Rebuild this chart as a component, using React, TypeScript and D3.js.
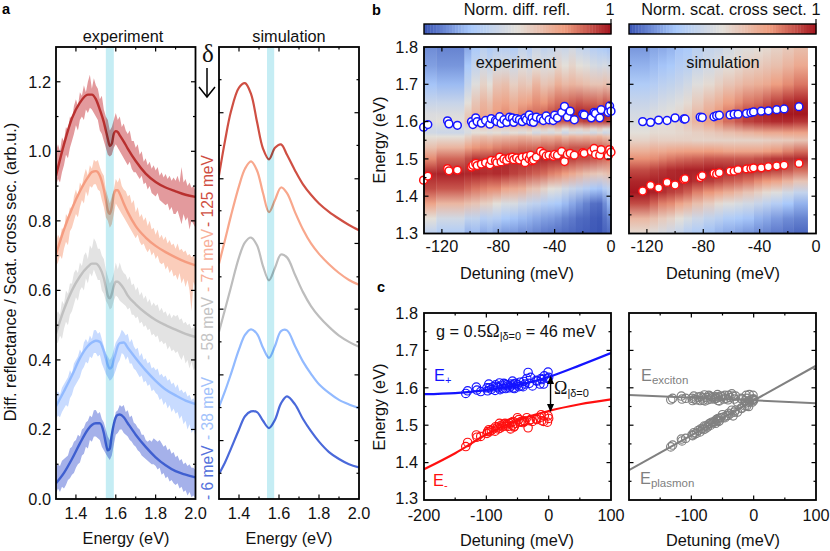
import React from 'react';
import * as d3 from 'd3';

const SANS = '"Liberation Sans", Arial, sans-serif';

// panel a, experiment: noisy band envelopes sampled every 10 meV from 1.30 to 2.00 eV
const bandEnergy = d3.range(0, 71).map((i) => 1.3 + i * 0.01);

const redUpper = [1.00,1.02,1.00,1.04,1.03,1.07,1.06,1.10,1.09,1.13,1.15,1.13,1.17,1.16,1.19,1.17,1.20,1.22,1.18,1.21,1.19,1.18,1.15,1.16,1.12,1.10,1.09,1.06,1.07,1.09,1.11,1.09,1.10,1.07,1.08,1.06,1.05,1.06,1.03,1.03,1.01,1.02,.99,1.00,.97,.98,.96,.97,.95,.96,.945,.955,.93,.94,.925,.935,.92,.93,.915,.925,.915,.93,.91,.955,.91,.92,.90,.91,.895,.90,.885];
const redLower = [.90,.92,.91,.94,.96,.99,.98,1.01,1.03,1.05,1.075,1.06,1.09,1.10,1.09,1.12,1.11,1.125,1.12,1.11,1.10,1.09,1.06,1.05,1.03,1.01,.99,.985,.99,1.01,1.02,1.01,1.00,.99,.98,.97,.96,.97,.95,.94,.94,.93,.92,.93,.905,.91,.89,.90,.88,.875,.87,.88,.86,.855,.85,.845,.85,.83,.84,.82,.82,.83,.81,.79,.82,.80,.81,.775,.80,.79,.78];
const salmonUpper = [.74,.76,.75,.78,.77,.82,.81,.84,.83,.87,.89,.87,.91,.90,.93,.95,.93,.96,.95,.976,.97,.975,.955,.94,.93,.89,.87,.85,.87,.89,.92,.91,.925,.90,.89,.885,.87,.875,.85,.86,.825,.84,.81,.82,.80,.81,.785,.80,.775,.78,.76,.775,.75,.76,.745,.755,.735,.745,.73,.735,.72,.735,.715,.72,.71,.715,.70,.705,.695,.70,.685];
const salmonLower = [.67,.68,.70,.69,.72,.74,.73,.77,.78,.80,.82,.81,.84,.86,.85,.885,.87,.90,.895,.905,.905,.89,.885,.86,.84,.81,.80,.78,.79,.82,.85,.84,.83,.82,.81,.80,.79,.78,.77,.76,.75,.76,.74,.73,.735,.72,.71,.72,.70,.71,.69,.70,.68,.675,.68,.66,.67,.65,.66,.64,.645,.63,.65,.62,.635,.61,.63,.60,.54,.625,.61];
const grayUpper = [.53,.54,.53,.57,.56,.60,.59,.62,.62,.65,.66,.65,.68,.67,.70,.71,.69,.73,.72,.75,.74,.72,.72,.70,.69,.66,.64,.62,.63,.65,.68,.66,.68,.66,.65,.645,.63,.64,.615,.62,.60,.61,.585,.595,.575,.585,.565,.575,.555,.565,.555,.56,.54,.55,.535,.54,.525,.535,.52,.53,.525,.53,.515,.52,.505,.51,.50,.505,.49,.495,.485];
const grayLower = [.447,.45,.47,.46,.49,.51,.50,.53,.54,.56,.58,.57,.60,.61,.60,.635,.62,.65,.64,.66,.645,.63,.63,.60,.59,.57,.56,.545,.55,.57,.585,.58,.57,.565,.56,.555,.545,.55,.53,.53,.52,.525,.505,.51,.495,.50,.485,.49,.47,.475,.465,.47,.45,.455,.445,.45,.43,.44,.425,.43,.42,.425,.41,.40,.415,.39,.40,.375,.395,.37,.38];
const skyUpper = [.30,.31,.30,.32,.33,.34,.35,.37,.36,.39,.40,.41,.43,.42,.45,.46,.45,.47,.46,.485,.486,.475,.48,.46,.44,.42,.41,.40,.41,.43,.45,.46,.47,.487,.48,.47,.475,.45,.46,.44,.43,.435,.41,.42,.40,.405,.39,.395,.375,.38,.37,.375,.355,.36,.35,.355,.34,.345,.33,.335,.32,.33,.31,.315,.305,.31,.295,.30,.285,.29,.275];
const skyLower = [.23,.24,.235,.25,.26,.27,.265,.29,.30,.32,.33,.34,.35,.37,.38,.395,.39,.41,.405,.42,.42,.41,.415,.39,.375,.36,.35,.34,.345,.355,.37,.39,.40,.42,.415,.40,.41,.39,.39,.375,.37,.36,.35,.355,.335,.34,.325,.33,.31,.315,.305,.30,.285,.29,.27,.28,.26,.27,.25,.26,.245,.25,.23,.24,.215,.225,.20,.215,.19,.20,.18];
const blueUpper = [.093,.10,.095,.11,.115,.12,.125,.145,.15,.165,.17,.185,.18,.20,.205,.22,.225,.24,.235,.255,.256,.245,.25,.23,.22,.20,.18,.17,.19,.22,.25,.255,.27,.265,.27,.25,.255,.235,.24,.22,.215,.205,.20,.185,.185,.17,.165,.17,.165,.175,.17,.165,.17,.16,.15,.155,.14,.145,.13,.135,.12,.125,.11,.115,.10,.105,.095,.10,.09,.09,.083];
const blueLower = [.016,.03,.02,.035,.03,.04,.055,.06,.07,.075,.09,.10,.105,.125,.13,.15,.145,.17,.165,.18,.18,.175,.17,.15,.14,.13,.12,.112,.125,.155,.185,.19,.20,.20,.19,.185,.18,.17,.165,.155,.15,.14,.135,.125,.12,.115,.11,.105,.10,.10,.095,.085,.09,.07,.075,.06,.065,.05,.055,.045,.04,.045,.03,.035,.02,.025,.01,.02,.005,.01,0];

// panel a, experiment fits
const fitEnergy = [1.30,1.34,1.38,1.42,1.46,1.48,1.50,1.52,1.54,1.55,1.56,1.57,1.58,1.59,1.60,1.61,1.62,1.64,1.66,1.70,1.75,1.80,1.85,1.90,1.95,2.00];
const redFit = [.93,1.02,1.095,1.14,1.163,1.163,1.15,1.12,1.084,1.06,1.036,1.015,1.022,1.05,1.058,1.055,1.046,1.028,1.008,.972,.936,.912,.896,.885,.875,.869];
const salmonFit = [.704,.775,.835,.885,.925,.94,.943,.93,.89,.86,.83,.82,.84,.875,.888,.888,.878,.85,.825,.785,.752,.728,.71,.695,.682,.672];
const grayFit = [.476,.545,.6,.64,.668,.677,.677,.665,.635,.61,.585,.577,.59,.612,.625,.625,.62,.605,.585,.56,.535,.515,.5,.487,.475,.466];
const skyFit = [.267,.31,.355,.405,.44,.45,.455,.452,.425,.405,.385,.375,.38,.4,.42,.44,.448,.45,.435,.405,.37,.34,.315,.298,.283,.273];
const blueFit = [.045,.075,.115,.16,.2,.213,.218,.218,.19,.16,.14,.145,.185,.215,.235,.242,.243,.235,.218,.185,.15,.12,.097,.08,.07,.062];

// panel a, simulation
const simEnergy = [1.30,1.33,1.36,1.40,1.43,1.46,1.49,1.52,1.55,1.58,1.61,1.64,1.68,1.72,1.76,1.80,1.85,1.90,1.95,2.00];
const redSim = [.931,1.03,1.115,1.183,1.196,1.165,1.085,1.008,.977,1.01,1.02,.99,.945,.905,.875,.85,.826,.806,.788,.773];
const salmonSim = [.677,.745,.815,.9,.95,.971,.945,.88,.825,.86,.896,.88,.825,.775,.735,.705,.675,.65,.63,.616];
const graySim = [.481,.545,.61,.695,.738,.752,.73,.67,.629,.665,.703,.695,.645,.595,.555,.525,.495,.47,.452,.438];
const skySim = [.265,.31,.36,.43,.472,.488,.475,.435,.406,.44,.483,.485,.44,.395,.36,.33,.305,.285,.272,.262];
const blueSim = [.072,.105,.145,.2,.238,.252,.25,.225,.204,.228,.275,.295,.272,.23,.195,.165,.135,.115,.1,.091];

const simMajor = [.168,.357,.546,.735,.921,1.111];
const simMinor = [.074,.263,.452,.639,.829,1.017,1.206];

// panels b and c, measured polariton energies
const detuning = [-133,-130,-116,-115,-109,-99,-98,-96,-95,-92,-89,-86,-85,-82,-81,-79,-78,-76,-74,-72,-70,-69,-67,-65,-63,-61,-60,-58,-57,-56,-55,-53,-50,-48,-46,-44,-41,-40,-38,-35,-33,-31,-29,-26,-20,-19,-14,-12,-11,-8,-7,-2,-1,0];
const upperBranch = [1.585,1.592,1.602,1.594,1.59,1.6,1.592,1.61,1.6,1.596,1.603,1.593,1.608,1.603,1.6,1.613,1.595,1.605,1.598,1.612,1.61,1.598,1.608,1.605,1.6,1.61,1.605,1.618,1.6,1.61,1.598,1.612,1.608,1.603,1.615,1.605,1.603,1.617,1.61,1.625,1.641,1.612,1.628,1.605,1.62,1.618,1.61,1.625,1.622,1.61,1.632,1.625,1.642,1.628];
const lowerBranch = [1.443,1.454,1.474,1.468,1.47,1.478,1.483,1.488,1.482,1.486,1.49,1.484,1.496,1.495,1.49,1.505,1.492,1.5,1.496,1.503,1.505,1.498,1.503,1.497,1.505,1.49,1.507,1.5,1.51,1.495,1.497,1.505,1.52,1.515,1.508,1.51,1.507,1.512,1.51,1.52,1.493,1.512,1.515,1.51,1.517,1.515,1.52,1.528,1.512,1.51,1.525,1.508,1.525,1.518];
const excitonPoints = [1.568,1.572,1.578,1.570,1.572,1.572,1.566,1.578,1.570,1.568,1.575,1.566,1.577,1.573,1.567,1.581,1.565,1.574,1.568,1.580,1.578,1.570,1.576,1.574,1.570,1.576,1.572,1.582,1.566,1.575,1.565,1.578,1.576,1.570,1.580,1.572,1.568,1.580,1.574,1.584,1.578,1.570,1.578,1.562,1.572,1.570,1.565,1.580,1.572,1.565,1.582,1.568,1.580,1.570];
const plasmonPoints = [1.442,1.447,1.463,1.458,1.465,1.474,1.472,1.48,1.476,1.478,1.486,1.482,1.49,1.492,1.488,1.498,1.49,1.498,1.495,1.503,1.505,1.5,1.508,1.506,1.51,1.505,1.515,1.513,1.518,1.51,1.512,1.52,1.528,1.522,1.52,1.525,1.526,1.532,1.53,1.54,1.525,1.535,1.54,1.535,1.546,1.545,1.552,1.56,1.552,1.55,1.562,1.562,1.57,1.566];

const simDetuning = [-123,-117.4,-111.7,-105.7,-100,-93.8,-92.9,-82.2,-80.7,-72.4,-70.5,-68.6,-61,-58.1,-55.3,-49.3,-46.2,-44.3,-38.8,-33.8,-27.9,-22.6,-12.1];
const simUpper = [1.6,1.598,1.604,1.603,1.61,1.607,1.607,1.612,1.611,1.613,1.616,1.617,1.618,1.62,1.62,1.622,1.624,1.626,1.628,1.629,1.632,1.634,1.64];
const simLower = [1.414,1.429,1.422,1.437,1.43,1.445,1.447,1.45,1.455,1.461,1.459,1.463,1.467,1.467,1.471,1.473,1.474,1.476,1.476,1.479,1.481,1.483,1.488];

// panel c, model curves
const curveDetuning = [-200,-150,-100,-50,0,50,100];
const upperCurve = [1.583,1.586,1.594,1.607,1.629,1.66,1.693];
const lowerCurve = [1.382,1.425,1.475,1.513,1.538,1.556,1.569];
const excitonLine = [1.581,1.559];
const plasmonLine = [1.38,1.659];
const lineDetuning = [-200,100];

// panel b heat maps: energy rows, column edges, one list per column (top to bottom)
const expRows = [1.80,1.75,1.70,1.65,1.62,1.60,1.58,1.57,1.56,1.53,1.50,1.46,1.42,1.38,1.34,1.30];
const expEdges = [-133,-124,-104,-99,-93,-88,-84,-78,-72,-66,-60,-56,-50,-45,-40,-35,-30,-25,-20,-15,-10,-6,-3,0];
const expColumns = [
  [.12,.16,.24,.38,.46,.48,.42,.42,.5,.62,.78,.97,.9,.72,.5,.33],
  [.1,.14,.22,.38,.46,.5,.42,.40,.5,.66,.85,.98,.88,.65,.42,.28],
  [.18,.26,.36,.5,.58,.6,.47,.45,.55,.72,.9,.97,.85,.62,.35,.2],
  [.26,.36,.48,.6,.65,.66,.52,.5,.6,.76,.94,.97,.82,.6,.35,.22],
  [.32,.42,.55,.66,.7,.72,.55,.5,.62,.78,.93,.96,.8,.56,.3,.18],
  [.27,.38,.5,.62,.68,.7,.53,.48,.6,.77,.94,.95,.78,.55,.32,.2],
  [.3,.45,.6,.7,.74,.75,.55,.5,.62,.8,.96,.96,.78,.5,.3,.17],
  [.3,.45,.62,.72,.78,.76,.54,.46,.63,.82,.97,.95,.72,.45,.26,.14],
  [.28,.42,.56,.68,.74,.76,.56,.5,.64,.82,.96,.92,.7,.45,.24,.14],
  [.35,.48,.6,.72,.8,.8,.55,.47,.66,.84,.96,.9,.68,.4,.22,.12],
  [.3,.44,.58,.74,.84,.82,.58,.5,.64,.84,.97,.88,.62,.36,.2,.12],
  [.38,.5,.66,.78,.84,.84,.52,.42,.62,.84,.97,.86,.6,.34,.18,.1],
  [.34,.47,.6,.76,.86,.84,.56,.46,.66,.86,.97,.84,.55,.3,.16,.08],
  [.36,.48,.62,.8,.9,.86,.52,.44,.65,.85,.96,.8,.5,.28,.15,.07],
  [.4,.54,.68,.84,.92,.88,.58,.48,.68,.88,.96,.78,.48,.26,.13,.06],
  [.38,.5,.64,.84,.94,.88,.5,.4,.62,.86,.95,.74,.42,.22,.1,.05],
  [.42,.54,.66,.86,.96,.9,.56,.46,.66,.88,.92,.7,.38,.18,.08,.04],
  [.36,.5,.64,.88,.98,.9,.54,.44,.64,.88,.9,.66,.34,.14,.05,.03],
  [.34,.48,.62,.86,.98,.92,.58,.46,.66,.88,.9,.62,.3,.1,.04,.02],
  [.3,.44,.6,.86,.97,.9,.52,.42,.64,.86,.88,.6,.26,.06,.02,.01],
  [.28,.42,.6,.84,.97,.9,.56,.46,.66,.86,.86,.58,.24,.05,.01,0],
  [.26,.44,.62,.88,.98,.92,.5,.4,.62,.84,.84,.6,.3,.12,.06,.03],
  [.24,.42,.6,.86,.97,.9,.48,.42,.6,.82,.82,.62,.34,.2,.1,.05],
];
const simRows = [1.80,1.75,1.70,1.65,1.62,1.60,1.57,1.55,1.52,1.50,1.47,1.44,1.41,1.38,1.34,1.30];
const simEdges = [-133,-118,-112,-106,-100,-94,-88,-80,-72,-66,-58,-52,-44,-38,-32,-24,-16,-6];
const simColumns = [
  [.14,.2,.28,.38,.43,.45,.5,.55,.68,.77,.9,.97,1,.9,.65,.52],
  [.17,.22,.3,.4,.46,.48,.52,.57,.7,.78,.92,.98,.98,.85,.62,.48],
  [.18,.24,.33,.43,.48,.5,.52,.56,.7,.8,.94,.98,.95,.8,.58,.44],
  [.2,.26,.35,.45,.5,.52,.52,.56,.72,.82,.96,.98,.92,.78,.55,.4],
  [.24,.3,.38,.48,.53,.55,.53,.56,.73,.84,.97,.98,.9,.72,.5,.36],
  [.26,.32,.42,.52,.58,.6,.54,.56,.74,.85,.98,.97,.86,.68,.45,.3],
  [.32,.38,.48,.58,.64,.66,.56,.55,.74,.86,.98,.95,.8,.62,.4,.27],
  [.36,.42,.52,.64,.7,.72,.58,.55,.75,.88,.99,.93,.76,.57,.35,.23],
  [.38,.46,.56,.68,.76,.78,.6,.55,.74,.88,.99,.9,.72,.52,.32,.2],
  [.42,.5,.6,.74,.82,.84,.62,.55,.72,.88,.98,.87,.68,.48,.28,.18],
  [.46,.53,.63,.78,.88,.88,.64,.55,.72,.88,.98,.85,.64,.45,.26,.16],
  [.48,.56,.66,.82,.92,.92,.66,.55,.72,.88,.97,.82,.6,.42,.24,.14],
  [.5,.58,.68,.84,.95,.94,.68,.55,.72,.9,.96,.78,.56,.38,.2,.12],
  [.52,.6,.7,.88,.97,.95,.7,.56,.74,.92,.94,.75,.52,.34,.18,.1],
  [.55,.62,.74,.92,.99,.96,.7,.57,.76,.94,.92,.72,.48,.3,.15,.08],
  [.58,.66,.78,.96,1,.96,.72,.58,.8,.95,.88,.66,.42,.25,.12,.06],
  [.62,.7,.82,.98,1,.94,.72,.6,.84,.96,.84,.6,.36,.2,.1,.04],
];

const heat = d3.scaleLinear<string>()
  .domain([0, 0.25, 0.5, 0.75, 1])
  .range(['#3a54b4', '#a9c9fb', '#e3dfd9', '#ee9c7e', '#a5161f']);

const spectra = [
  { band: '#e39a9d', fit: '#b9302f', sim: '#cf4f43', upper: redUpper, lower: redLower, fitY: redFit, simY: redSim },
  { band: '#fbcdbb', fit: '#f59c80', sim: '#f8a78c', upper: salmonUpper, lower: salmonLower, fitY: salmonFit, simY: salmonSim },
  { band: '#e3e3e3', fit: '#c0c0c0', sim: '#bdbdbd', upper: grayUpper, lower: grayLower, fitY: grayFit, simY: graySim },
  { band: '#c8dbff', fit: '#92baff', sim: '#92baff', upper: skyUpper, lower: skyLower, fitY: skyFit, simY: skySim },
  { band: '#a5b1ea', fit: '#3f5fd0', sim: '#4a69da', upper: blueUpper, lower: blueLower, fitY: blueFit, simY: blueSim },
];

const sideLabels = [
  { text: '- 6 meV', y: 500, color: '#5572dc' },
  { text: '- 38 meV', y: 440, color: '#a2c2fb' },
  { text: '- 58 meV', y: 360, color: '#c4c4c4' },
  { text: '- 71 meV', y: 292, color: '#f8b09a' },
  { text: '- 125 meV', y: 227, color: '#cf4f43' },
];

const exY = d3.scaleLinear().domain([0, 1.3]).range([499, 47]);
const exX = d3.scaleLinear().domain([1.3, 2.0]).range([56, 195.5]);
const smX = d3.scaleLinear().domain([1.3, 2.0]).range([219, 359]);
const bY = d3.scaleLinear().domain([1.3, 1.8]).range([233.5, 47]);
const bLX = d3.scaleLinear().domain([-132.7, 0]).range([424, 611]);
const bRX = d3.scaleLinear().domain([-132.7, 0]).range([629, 816]);
const cY = d3.scaleLinear().domain([1.3, 1.8]).range([500, 313]);
const cLX = d3.scaleLinear().domain([-200, 100]).range([424, 611]);
const cRX = d3.scaleLinear().domain([-200, 100]).range([629, 816]);

type Scale = d3.ScaleLinear<number, number>;

function Frame({ x, y, xMajor, xMinor, yMajor, yMinor }: {
  x: Scale; y: Scale; xMajor: number[]; xMinor: number[]; yMajor: number[]; yMinor: number[];
}) {
  const [x0, x1] = x.range();
  const [y1, y0] = y.range();
  const xt = (vals: number[], len: number) => vals.map((v) => (
    <g key={`x${v}`}>
      <line x1={x(v)} x2={x(v)} y1={y1} y2={y1 - len} stroke="#000" strokeWidth={1.2} />
      <line x1={x(v)} x2={x(v)} y1={y0} y2={y0 + len} stroke="#000" strokeWidth={1.2} />
    </g>
  ));
  const yt = (vals: number[], len: number) => vals.map((v) => (
    <g key={`y${v}`}>
      <line x1={x0} x2={x0 + len} y1={y(v)} y2={y(v)} stroke="#000" strokeWidth={1.2} />
      <line x1={x1} x2={x1 - len} y1={y(v)} y2={y(v)} stroke="#000" strokeWidth={1.2} />
    </g>
  ));
  return (
    <g>
      {xt(xMajor, 4.5)}{xt(xMinor, 2.5)}{yt(yMajor, 4.5)}{yt(yMinor, 2.5)}
      <rect x={x0} y={y0} width={x1 - x0} height={y1 - y0} fill="none" stroke="#000" strokeWidth={1.8} />
    </g>
  );
}

function Label({ x, y, children, anchor = 'middle', size = 16.3, fill = '#111', rotate }: {
  x: number; y: number; children: React.ReactNode; anchor?: string; size?: number; fill?: string; rotate?: boolean;
}) {
  return (
    <text x={x} y={y} textAnchor={anchor as any} fontSize={size} fill={fill} fontFamily={SANS}
      transform={rotate ? `rotate(-90 ${x} ${y})` : undefined}>{children}</text>
  );
}

function HeatMap({ id, x, rows, edges, columns }: {
  id: string; x: Scale; rows: number[]; edges: number[]; columns: number[][];
}) {
  const top = bY(1.8);
  const bottom = bY(1.3);
  const offset = d3.scaleLinear().domain([top, bottom]).range([0, 1]);
  return (
    <g>
      <defs>
        {columns.map((col, i) => (
          <linearGradient key={i} id={`${id}${i}`} x1="0" x2="0" y1="0" y2="1">
            {col.map((v, j) => <stop key={j} offset={offset(bY(rows[j]))} stopColor={heat(v)} />)}
          </linearGradient>
        ))}
      </defs>
      {columns.map((_, i) => (
        <rect key={i} x={x(edges[i])} width={x(edges[i + 1]) - x(edges[i]) + 0.4} y={top} height={bottom - top}
          fill={`url(#${id}${i})`} />
      ))}
    </g>
  );
}

function ColorBar({ x0, x1 }: { x0: number; x1: number }) {
  const t = d3.scaleLinear().domain([0, 1]).range([x0, x1]);
  const steps = d3.range(0, 1, 1 / 60);
  return (
    <g>
      {steps.map((s) => (
        <rect key={s} x={t(s)} y={24} width={(x1 - x0) / 60 + 0.4} height={10} fill={heat(s + 1 / 120)} />
      ))}
      <rect x={x0} y={24} width={x1 - x0} height={10} fill="none" stroke="#000" strokeWidth={1.4} />
      <line x1={x1} x2={x1} y1={19} y2={24} stroke="#000" strokeWidth={1.2} />
    </g>
  );
}

function Dots({ xs, ys, x, y, r, color, fill, width }: {
  xs: number[]; ys: number[]; x: Scale; y: Scale; r: number; color: string; fill: string; width: number;
}) {
  return (
    <g>
      {xs.map((d, i) => (
        <circle key={i} cx={x(d)} cy={y(ys[i])} r={r} fill={fill} stroke={color} strokeWidth={width} />
      ))}
    </g>
  );
}

const omegaFont = '"Liberation Serif", "DejaVu Serif", serif';

export default function App() {
  const areaBand = (up: number[], low: number[]) => d3.area<number>()
    .x((_, i) => exX(bandEnergy[i])).y0((_, i) => exY(low[i])).y1((_, i) => exY(up[i]))(up) ?? '';
  const fitLine = (ys: number[]) => d3.line<number>()
    .x((_, i) => exX(fitEnergy[i])).y((v) => exY(v)).curve(d3.curveMonotoneX)(ys) ?? '';
  const simLine = (ys: number[]) => d3.line<number>()
    .x((_, i) => smX(simEnergy[i])).y((v) => exY(v)).curve(d3.curveCatmullRom)(ys) ?? '';
  const cLine = (xs: number[], ys: number[], x: Scale) => d3.line<number>()
    .x((_, i) => x(xs[i])).y((v) => cY(v)).curve(d3.curveMonotoneX)(ys) ?? '';

  const tickX = [1.4, 1.6, 1.8];
  const tickXMinor = [1.5, 1.7, 1.9];
  const tickY = [0.2, 0.4, 0.6, 0.8, 1.0, 1.2];
  const tickYMinor = [0.1, 0.3, 0.5, 0.7, 0.9, 1.1];
  const eMajor = [1.4, 1.5, 1.6, 1.7];
  const eMinor = [1.35, 1.45, 1.55, 1.65, 1.75];

  return (
    <svg width={830} height={551} style={{ position: 'absolute', left: 0, top: 0, background: '#fff' }}>
      <defs>
        <clipPath id="clipEx"><rect x={56} y={47} width={139.5} height={452} /></clipPath>
        <clipPath id="clipSm"><rect x={219} y={47} width={140} height={452} /></clipPath>
        <clipPath id="clipCL"><rect x={424} y={313} width={187} height={187} /></clipPath>
        <clipPath id="clipCR"><rect x={629} y={313} width={187} height={187} /></clipPath>
        <marker id="arrowEnd" viewBox="0 0 8 8" refX={7} refY={4} markerWidth={6} markerHeight={6} orient="auto-start-reverse">
          <path d="M0,0.5 L8,4 L0,7.5 Z" fill="#000" />
        </marker>
      </defs>

      {/* a: experiment */}
      <g clipPath="url(#clipEx)">
        {spectra.map((s, i) => <path key={i} d={areaBand(s.upper, s.lower)} fill={s.band} />)}
        {spectra.map((s, i) => <path key={i} d={fitLine(s.fitY)} fill="none" stroke={s.fit} strokeWidth={2.4} />)}
        <rect x={exX(1.55)} width={exX(1.59) - exX(1.55)} y={47} height={452} fill="#c5edf4" style={{ mixBlendMode: 'multiply' }} />
      </g>
      <Frame x={exX} y={exY} xMajor={tickX} xMinor={tickXMinor} yMajor={tickY} yMinor={tickYMinor} />

      {/* a: simulation */}
      <g clipPath="url(#clipSm)">
        {spectra.map((s, i) => <path key={i} d={simLine(s.simY)} fill="none" stroke={s.sim} strokeWidth={2.2} />)}
        <rect x={smX(1.54)} width={smX(1.576) - smX(1.54)} y={47} height={452} fill="#c5edf4" style={{ mixBlendMode: 'multiply' }} />
      </g>
      <Frame x={smX} y={exY} xMajor={tickX} xMinor={tickXMinor} yMajor={simMajor} yMinor={simMinor} />

      <Label x={123} y={42}>experiment</Label>
      <Label x={289} y={42}>simulation</Label>
      {[0, 0.2, 0.4, 0.6, 0.8, 1.0, 1.2].map((v) => (
        <Label key={v} x={51} y={exY(v) + 5.8} anchor="end">{v.toFixed(1)}</Label>
      ))}
      {[1.4, 1.6, 1.8, 2.0].map((v) => <Label key={v} x={exX(v)} y={519}>{v.toFixed(1)}</Label>)}
      {[1.4, 1.6, 1.8, 2.0].map((v) => <Label key={v} x={smX(v)} y={519}>{v.toFixed(1)}</Label>)}
      <Label x={126} y={544}>Energy (eV)</Label>
      <Label x={289} y={544}>Energy (eV)</Label>
      <Label x={16} y={272} rotate>Diff. reflectance / Scat. cross sec. (arb.u.)</Label>
      {sideLabels.map((l) => <Label key={l.text} x={213} y={l.y} anchor="start" size={15.6} fill={l.color} rotate>{l.text}</Label>)}
      <text x={208} y={62} textAnchor="middle" fontSize={25} fontFamily={omegaFont} fill="#111">δ</text>
      <line x1={207} x2={207} y1={68} y2={96} stroke="#000" strokeWidth={1.5} />
      <path d="M199,87 L207,97 L215,87" fill="none" stroke="#000" strokeWidth={1.5} />

      {/* b */}
      <HeatMap id="hE" x={bLX} rows={expRows} edges={expEdges} columns={expColumns} />
      <Dots xs={detuning} ys={upperBranch} x={bLX} y={bY} r={3.9} color="#1414ff" fill="#fff" width={1.5} />
      <Dots xs={detuning} ys={lowerBranch} x={bLX} y={bY} r={3.9} color="#ff1010" fill="#fff" width={1.5} />
      <Frame x={bLX} y={bY} xMajor={[-120, -80, -40]} xMinor={[-100, -60, -20]} yMajor={eMajor} yMinor={eMinor} />
      <HeatMap id="hS" x={bRX} rows={simRows} edges={simEdges} columns={simColumns} />
      <Dots xs={simDetuning} ys={simUpper} x={bRX} y={bY} r={3.9} color="#1414ff" fill="#fff" width={1.5} />
      <Dots xs={simDetuning} ys={simLower} x={bRX} y={bY} r={3.9} color="#ff1010" fill="#fff" width={1.5} />
      <Frame x={bRX} y={bY} xMajor={[-120, -80, -40]} xMinor={[-100, -60, -20]} yMajor={eMajor} yMinor={eMinor} />
      <ColorBar x0={424} x1={611} />
      <ColorBar x0={629} x1={816} />
      <Label x={517} y={15}>Norm. diff. refl.</Label>
      <Label x={610} y={15}>1</Label>
      <Label x={724} y={15}>Norm. scat. cross sect.</Label>
      <Label x={816} y={15}>1</Label>
      <Label x={516} y={68}>experiment</Label>
      <Label x={723} y={68}>simulation</Label>
      {[1.3, 1.4, 1.5, 1.6, 1.7, 1.8].map((v) => <Label key={v} x={418} y={bY(v) + 5.8} anchor="end">{v.toFixed(1)}</Label>)}
      {[-120, -80, -40, 0].map((v) => <Label key={v} x={bLX(v)} y={252}>{v}</Label>)}
      {[-120, -80, -40, 0].map((v) => <Label key={v} x={bRX(v)} y={252}>{v}</Label>)}
      <Label x={517} y={279}>Detuning (meV)</Label>
      <Label x={723} y={279}>Detuning (meV)</Label>
      <Label x={385} y={140} rotate>Energy (eV)</Label>

      {/* c */}
      <g clipPath="url(#clipCL)">
        <path d={cLine(curveDetuning, upperCurve, cLX)} fill="none" stroke="#1414ff" strokeWidth={2.2} />
        <path d={cLine(curveDetuning, lowerCurve, cLX)} fill="none" stroke="#ff1010" strokeWidth={2.2} />
      </g>
      <Dots xs={detuning} ys={upperBranch} x={cLX} y={cY} r={4.2} color="#1414ff" fill="none" width={1.15} />
      <Dots xs={detuning} ys={lowerBranch} x={cLX} y={cY} r={4.2} color="#ff1010" fill="none" width={1.15} />
      <line x1={cLX(3)} x2={cLX(3)} y1={cY(1.629)} y2={cY(1.538)} stroke="#000" strokeWidth={1.4}
        markerStart="url(#arrowEnd)" markerEnd="url(#arrowEnd)" />
      <Frame x={cLX} y={cY} xMajor={[-100, 0]} xMinor={[-150, -50, 50]} yMajor={eMajor} yMinor={eMinor} />
      <g clipPath="url(#clipCR)">
        <path d={cLine(lineDetuning, excitonLine, cRX)} fill="none" stroke="#808080" strokeWidth={2} />
        <path d={cLine(lineDetuning, plasmonLine, cRX)} fill="none" stroke="#808080" strokeWidth={2} />
      </g>
      <Dots xs={detuning} ys={excitonPoints} x={cRX} y={cY} r={4.2} color="#808080" fill="none" width={1.15} />
      <Dots xs={detuning} ys={plasmonPoints} x={cRX} y={cY} r={4.2} color="#808080" fill="none" width={1.15} />
      <Frame x={cRX} y={cY} xMajor={[-100, 0]} xMinor={[-150, -50, 50]} yMajor={eMajor} yMinor={eMinor} />

      {[1.4, 1.5, 1.6, 1.7, 1.8].map((v) => <Label key={v} x={418} y={cY(v) + 5.8} anchor="end">{v.toFixed(1)}</Label>)}
      <Label x={418} y={cY(1.3) + 4} anchor="end">1.3</Label>
      {[-200, -100, 0, 100].map((v) => <Label key={v} x={cLX(v)} y={520.5}>{v}</Label>)}
      {[-100, 0, 100].map((v) => <Label key={v} x={cRX(v)} y={520.5}>{v}</Label>)}
      <Label x={517} y={546}>Detuning (meV)</Label>
      <Label x={723} y={546}>Detuning (meV)</Label>
      <Label x={385} y={407} rotate>Energy (eV)</Label>

      <Label x={436} y={337} anchor="start">
        g = 0.5<tspan fontFamily={omegaFont} fontSize={18}>Ω</tspan><tspan fontSize={11} dy={3}>|δ=0</tspan><tspan dy={-3}> = 46 meV</tspan>
      </Label>
      <Label x={434} y={381} anchor="start" fill="#1414ff">E<tspan fontSize={11} dy={3}>+</tspan></Label>
      <Label x={433} y={486} anchor="start" fill="#ff1010">E<tspan fontSize={11} dy={3}>-</tspan></Label>
      <Label x={554} y={394} anchor="start">
        <tspan fontFamily={omegaFont} fontSize={18}>Ω</tspan><tspan fontSize={11} dy={3}>|δ=0</tspan>
      </Label>
      <Label x={641} y={381} anchor="start" fill="#808080">E<tspan fontSize={11.5} dy={3}>exciton</tspan></Label>
      <Label x={640} y={484} anchor="start" fill="#808080">E<tspan fontSize={11.5} dy={3}>plasmon</tspan></Label>

      <text x={2} y={14} fontSize={14.5} fontWeight="bold" fontFamily={SANS}>a</text>
      <text x={372} y={15} fontSize={14.5} fontWeight="bold" fontFamily={SANS}>b</text>
      <text x={377} y={292} fontSize={14.5} fontWeight="bold" fontFamily={SANS}>c</text>
    </svg>
  );
}
